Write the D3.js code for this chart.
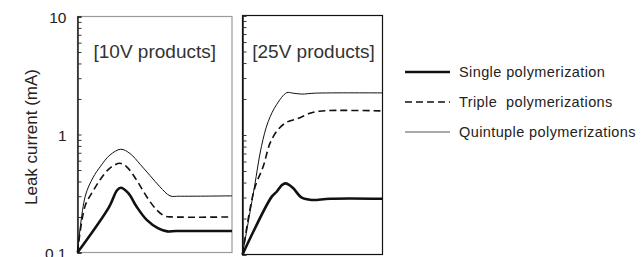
<!DOCTYPE html>
<html>
<head>
<meta charset="utf-8">
<script src="https://cdn.jsdelivr.net/npm/d3@7"></script>
<style>
  body { margin: 0; background: #fff; }
  svg { display: block; font-family: "Liberation Sans", Arial, sans-serif; }
</style>
</head>
<body>
<div id="chart"></div>
<script>
// time axis is relative (0-100 %) in both panels
const panelTitles = ["[10V products]", "[25V products]"];
const yTickValues = [0.1, 1, 10];
const yTickLabels = ["0.1", "1", "10"];
const seriesNames = ["Single polymerization", "Triple  polymerizations", "Quintuple polymerizations"];

// [10V products]
const single10 = [[0,0.1],[20.5,0.244],[25.5,0.335],[28,0.354],[32.9,0.318],[38.3,0.244],[44.8,0.189],[52.3,0.160],[58,0.151],[64,0.152],[100,0.152]];
const triple10 = [[0,0.1],[5,0.25],[10,0.33],[15,0.42],[21,0.52],[27.5,0.57],[32,0.53],[38.3,0.41],[44.8,0.297],[51.3,0.229],[56.6,0.203],[62,0.2],[100,0.2]];
const quint10  = [[0,0.1],[5,0.3],[10,0.43],[15,0.54],[21,0.67],[28,0.75],[34,0.69],[40.5,0.56],[46.9,0.45],[53.4,0.36],[59.9,0.302],[66,0.3],[100,0.302]];

// [25V products]
const single25 = [[0,0.1],[20.9,0.305],[24.4,0.335],[28,0.38],[30.4,0.394],[33,0.385],[36.3,0.358],[42.3,0.299],[49.4,0.286],[62.5,0.293],[100,0.293]];
const triple25 = [[0,0.1],[8.4,0.35],[14.9,0.55],[19.6,0.85],[25.1,1.1],[31.6,1.28],[39.4,1.37],[48.2,1.52],[56.6,1.59],[100,1.59]];
const quint25  = [[0,0.1],[8.4,0.36],[13.5,0.8],[18.4,1.3],[24.4,1.8],[31.6,2.26],[36,2.24],[42.3,2.2],[52,2.24],[100,2.25]];

const width = 641, height = 257;

const svg = d3.select("#chart").append("svg")
    .attr("width", width)
    .attr("height", height);

// line styles per series
const styles = [
    { w: 2.6, dash: null },
    { w: 1.6, dash: "7,4" },
    { w: 1, dash: null }
];

const panels = [
    { x0: 77.5, x1: 232, y0: 252.5, y1: 16.5, frame: "#9a9a9a", data: [single10, triple10, quint10], title: panelTitles[0] },
    { x0: 242.5, x1: 382.5, y0: 254.5, y1: 15.5, frame: "#111", data: [single25, triple25, quint25], title: panelTitles[1] }
];

panels.forEach((p, i) => {
    const x = d3.scaleLinear().domain([0, 100]).range([p.x0, p.x1]);
    const y = d3.scaleLog().domain([0.1, 10]).range([p.y0, p.y1]);
    const g = svg.append("g");

    // frame
    g.append("rect")
        .attr("x", p.x0).attr("y", p.y1)
        .attr("width", p.x1 - p.x0).attr("height", p.y0 - p.y1)
        .attr("fill", "none")
        .attr("stroke", p.frame)
        .attr("stroke-width", 1.2);

    // left axis with inward log ticks
    const ax = g.append("g")
        .attr("transform", `translate(${p.x0},0)`)
        .call(d3.axisRight(y).tickValues(y.ticks()).tickSize(4).tickFormat(""));
    ax.select(".domain").attr("stroke", "#111").attr("stroke-width", 1.4);
    ax.selectAll(".tick line").attr("stroke", "#333");

    if (i === 0) {
        g.selectAll(".ylab")
            .data(yTickValues)
            .enter().append("text")
            .attr("x", p.x0 - 11)
            .attr("y", d => y(d))
            .attr("dy", "0.45em")
            .attr("text-anchor", "end")
            .attr("font-size", 15.5)
            .attr("fill", "#222")
            .text((d, k) => yTickLabels[k]);
    }

    // title
    g.append("text")
        .attr("x", (p.x0 + p.x1) / 2 + (i === 0 ? 0 : 1))
        .attr("y", 58)
        .attr("text-anchor", "middle")
        .attr("font-size", 19)
        .attr("fill", "#333")
        .text(p.title);

    const line = d3.line()
        .x(d => x(d[0]))
        .y(d => y(d[1]))
        .curve(d3.curveCatmullRom.alpha(0.5));

    p.data.forEach((s, k) => {
        g.append("path")
            .datum(s)
            .attr("d", line)
            .attr("fill", "none")
            .attr("stroke", "#111")
            .attr("stroke-width", styles[k].w)
            .attr("stroke-dasharray", styles[k].dash);
    });
});

// y title
svg.append("text")
    .attr("transform", "translate(37,137) rotate(-90)")
    .attr("text-anchor", "middle")
    .attr("font-size", 17)
    .attr("fill", "#222")
    .text("Leak current (mA)");

// legend
const legend = svg.append("g");
seriesNames.forEach((name, k) => {
    const ly = 72 + k * 30;
    legend.append("line")
        .attr("x1", 405).attr("x2", 450)
        .attr("y1", ly).attr("y2", ly)
        .attr("stroke", k === 2 ? "#555" : "#111")
        .attr("stroke-width", styles[k].w)
        .attr("stroke-dasharray", styles[k].dash);
    legend.append("text")
        .attr("x", 459)
        .attr("y", ly)
        .attr("dy", "0.35em")
        .attr("font-size", 14.5)
        .attr("letter-spacing", 0.4)
        .style("white-space", "pre")
        .attr("fill", "#222")
        .text(name);
});
</script>
</body>
</html>
